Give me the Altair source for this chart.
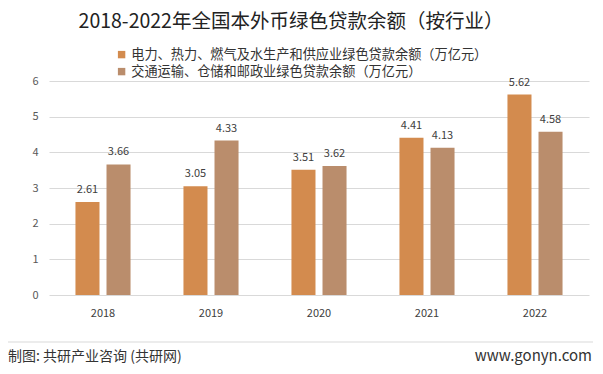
import altair as alt
import pandas as pd

years = ["2018", "2019", "2020", "2021", "2022"]
series_names = [
    "电力、热力、燃气及水生产和供应业绿色贷款余额（万亿元）",
    "交通运输、仓储和邮政业绿色贷款余额（万亿元）",
]
power_values = [2.61, 3.05, 3.51, 4.41, 5.62]
transport_values = [3.66, 4.33, 3.62, 4.13, 4.58]
colors = ["#D38B4E", "#BA8D6C"]
y_ticks = [0, 1, 2, 3, 4, 5, 6]

title_text = "2018-2022年全国本外币绿色贷款余额（按行业）"
footer_left = "制图: 共研产业咨询 (共研网)"
footer_right = "www.gonyn.com"

rows = []
for i, y in enumerate(years):
    rows.append({"year": y, "series": series_names[0], "value": power_values[i]})
    rows.append({"year": y, "series": series_names[1], "value": transport_values[i]})
df = pd.DataFrame(rows)

FONT = "Noto Sans CJK SC"

x_enc = alt.X("year:N", sort=years,
              scale=alt.Scale(paddingInner=0.49, paddingOuter=0.245),
              axis=alt.Axis(title=None, labelAngle=0, domain=False, ticks=False,
                            labelPadding=12, labelFontSize=11, labelColor="#404040",
                            labelFont=FONT))
xoff = alt.XOffset("series:N", sort=series_names,
                   scale=alt.Scale(paddingInner=0.226, paddingOuter=0))
y_enc = alt.Y("value:Q", scale=alt.Scale(domain=[0, 6], nice=False),
              axis=alt.Axis(title=None, values=y_ticks, tickCount=7, labelOverlap=False,
                            domain=False, ticks=False,
                            gridColor="#D9D9D9", labelPadding=11, labelFontSize=11,
                            labelColor="#595959", labelFont=FONT))

bars = alt.Chart(df).mark_bar().encode(
    x=x_enc, xOffset=xoff, y=y_enc,
    color=alt.Color("series:N", sort=series_names,
                    scale=alt.Scale(domain=series_names, range=colors),
                    legend=alt.Legend(title=None, orient="none", legendX=66, legendY=-33,
                                      symbolType="square", symbolSize=55,
                                      symbolStrokeWidth=0, labelFontSize=13.2,
                                      labelColor="#333333", labelFont=FONT,
                                      rowPadding=3, labelOffset=3, labelLimit=500)),
)

labels = alt.Chart(df).mark_text(baseline="bottom", dy=-7, fontSize=11,
                                 color="#404040", font=FONT).encode(
    x=alt.X("year:N", sort=years), xOffset=xoff, y="value:Q",
    text=alt.Text("value:Q", format=".2f"),
)

title = alt.Chart(pd.DataFrame({"t": [title_text]})).mark_text(
    fontSize=19.5, color="#222222", font=FONT, align="center", baseline="middle"
).encode(x=alt.value(242), y=alt.value(-59), text="t:N")

sep = alt.Chart(pd.DataFrame({"a": [1]})).mark_rule(color="#D9D9D9", strokeWidth=1).encode(
    x=alt.value(-44), x2=alt.value(544), y=alt.value(261))

foot_l = alt.Chart(pd.DataFrame({"t": [footer_left]})).mark_text(
    fontSize=14, color="#333333", font=FONT, align="left", baseline="middle"
).encode(x=alt.value(-41), y=alt.value(276), text="t:N")

foot_r = alt.Chart(pd.DataFrame({"t": [footer_right]})).mark_text(
    fontSize=15, color="#333333", font=FONT, align="right", baseline="middle"
).encode(x=alt.value(543), y=alt.value(275), text="t:N")

chart = alt.layer(bars, labels, title, sep, foot_l, foot_r).properties(
    width=540, height=214,
    autosize=alt.AutoSizeParams(type="none"),
    padding={"left": 41, "top": 73, "right": 6, "bottom": 71},
    background="white",
).configure_view(stroke=None)

chart.save("out.html", embed_options={"renderer": "svg", "actions": False})
